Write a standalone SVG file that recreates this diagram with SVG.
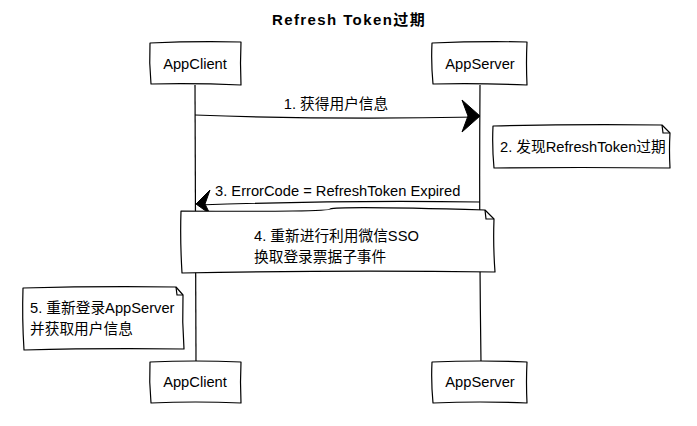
<svg xmlns="http://www.w3.org/2000/svg" width="697" height="426" viewBox="0 0 697 426">
<style>
.sk{fill:#fff;stroke:#000;stroke-width:1.2;stroke-linejoin:round}
.ln{fill:none;stroke:#000;stroke-width:1.2}
.t{font-family:"Liberation Sans","Noto Sans CJK SC",sans-serif;font-size:14.7px;fill:#000}
.c{text-anchor:middle}
.ah{fill:#000;stroke:#000;stroke-width:1}
</style>
<rect width="697" height="426" fill="#fff"/>
<text x="349" y="25" class="t c" style="font-weight:bold;font-size:15px;letter-spacing:1.4px">Refresh Token过期</text>
<g id="connectors">
<path class="ln" d="M195 85 Q196 220 196 362"/>
<path class="ln" d="M480 85 Q479 220 481 362"/>
<path class="ln" d="M195 115 Q330 120 478 117"/>
<path class="ah" d="M480 116 L462 100 L468 116 L462 132 Z"/>
<text x="336" y="109" class="t c">1. 获得用户信息</text>
<path class="ln" d="M480 202 Q340 200 198 205"/>
<path class="ah" d="M196 204 L210 190 L205 204 L210 214 Z"/>
<text x="215" y="196" class="t">3. ErrorCode = RefreshToken Expired</text>
</g>
<g id="appclient-top">
<path class="sk" d="M150 43 Q195 41 241 42 Q240 63 241 85 Q195 83 151 84 Q149 63 150 43 Z"/>
<text x="195" y="69" class="t c">AppClient</text>
</g>
<g id="appserver-top">
<path class="sk" d="M432 43 Q480 41 527 42 Q526 63 527 85 Q480 83 433 84 Q431 63 432 43 Z"/>
<text x="480" y="69" class="t c">AppServer</text>
</g>
<g id="appclient-bottom">
<path class="sk" d="M150 362 Q195 360 241 362 Q240 382 241 403 Q195 401 151 403 Q149 382 150 362 Z"/>
<text x="195" y="387" class="t c">AppClient</text>
</g>
<g id="appserver-bottom">
<path class="sk" d="M432 362 Q480 360 527 362 Q526 382 527 403 Q480 401 433 403 Q431 382 432 362 Z"/>
<text x="480" y="387" class="t c">AppServer</text>
</g>
<g id="note2">
<path class="sk" d="M493 126 Q575 124 662 125 L670 133 Q669 150 670 168 Q580 167 494 168 Q492 147 493 126 Z"/>
<path class="ln" d="M662 125 L663 133 L670 133"/>
<text x="500" y="152" class="t">2. 发现RefreshToken过期</text>
</g>
<g id="note4">
<path class="sk" d="M181 211 Q330 212 330 209 Q340 206 485 210 L494 219 Q493 245 495 272 Q340 270 182 273 Q180 240 181 211 Z"/>
<path class="ln" d="M485 210 L486 219 L494 219"/>
<text x="254" y="241" class="t">4. 重新进行利用微信SSO</text>
<text x="254" y="262" class="t">换取登录票据子事件</text>
</g>
<g id="note5">
<path class="sk" d="M23 288 Q100 286 176 287 L183 295 Q182 322 184 349 Q100 348 24 350 Q22 318 23 288 Z"/>
<path class="ln" d="M176 287 L177 295 L183 295"/>
<text x="30" y="313" class="t">5. 重新登录AppServer</text>
<text x="30" y="334" class="t">并获取用户信息</text>
</g>
</svg>
